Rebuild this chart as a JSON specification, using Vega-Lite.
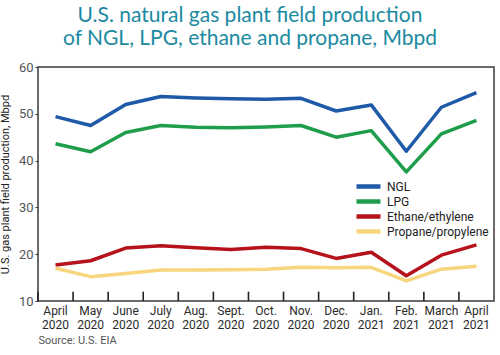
{
  "$schema": "https://vega.github.io/schema/vega-lite/v6.json",
  "width": 456,
  "height": 234,
  "autosize": {"type": "none"},
  "padding": {"left": 38, "top": 67, "right": 6, "bottom": 54},
  "background": "white",
  "title": {
    "text": ["U.S. natural gas plant field production", "of NGL, LPG, ethane and propane, Mbpd"],
    "font": "Lato",
    "fontSize": 21,
    "fontWeight": "normal",
    "color": "#1b8aa1",
    "anchor": "middle",
    "frame": "group",
    "dx": -16,
    "offset": 12,
    "lineHeight": 23
  },
  "config": {
    "view": {"stroke": "#3a3a3a", "strokeWidth": 1.5},
    "axis": {"labelFont": "Roboto", "titleFont": "Roboto"},
    "legend": {"labelFont": "Roboto"}
  },
  "data": {
    "values": [
      {"month": "April 2020", "series": "NGL", "value": 49.4},
      {"month": "May 2020", "series": "NGL", "value": 47.5},
      {"month": "June 2020", "series": "NGL", "value": 52.0},
      {"month": "July 2020", "series": "NGL", "value": 53.7},
      {"month": "Aug. 2020", "series": "NGL", "value": 53.4},
      {"month": "Sept. 2020", "series": "NGL", "value": 53.2},
      {"month": "Oct. 2020", "series": "NGL", "value": 53.1},
      {"month": "Nov. 2020", "series": "NGL", "value": 53.3},
      {"month": "Dec. 2020", "series": "NGL", "value": 50.6},
      {"month": "Jan. 2021", "series": "NGL", "value": 51.9},
      {"month": "Feb. 2021", "series": "NGL", "value": 42.0},
      {"month": "March 2021", "series": "NGL", "value": 51.4},
      {"month": "April 2021", "series": "NGL", "value": 54.5},
      {"month": "April 2020", "series": "LPG", "value": 43.6},
      {"month": "May 2020", "series": "LPG", "value": 41.9},
      {"month": "June 2020", "series": "LPG", "value": 46.0},
      {"month": "July 2020", "series": "LPG", "value": 47.5},
      {"month": "Aug. 2020", "series": "LPG", "value": 47.1},
      {"month": "Sept. 2020", "series": "LPG", "value": 47.0},
      {"month": "Oct. 2020", "series": "LPG", "value": 47.2},
      {"month": "Nov. 2020", "series": "LPG", "value": 47.5},
      {"month": "Dec. 2020", "series": "LPG", "value": 45.0},
      {"month": "Jan. 2021", "series": "LPG", "value": 46.4},
      {"month": "Feb. 2021", "series": "LPG", "value": 37.6},
      {"month": "March 2021", "series": "LPG", "value": 45.7},
      {"month": "April 2021", "series": "LPG", "value": 48.6},
      {"month": "April 2020", "series": "Ethane/ethylene", "value": 17.7},
      {"month": "May 2020", "series": "Ethane/ethylene", "value": 18.6},
      {"month": "June 2020", "series": "Ethane/ethylene", "value": 21.3},
      {"month": "July 2020", "series": "Ethane/ethylene", "value": 21.8},
      {"month": "Aug. 2020", "series": "Ethane/ethylene", "value": 21.4},
      {"month": "Sept. 2020", "series": "Ethane/ethylene", "value": 21.0},
      {"month": "Oct. 2020", "series": "Ethane/ethylene", "value": 21.5},
      {"month": "Nov. 2020", "series": "Ethane/ethylene", "value": 21.2},
      {"month": "Dec. 2020", "series": "Ethane/ethylene", "value": 19.1},
      {"month": "Jan. 2021", "series": "Ethane/ethylene", "value": 20.4},
      {"month": "Feb. 2021", "series": "Ethane/ethylene", "value": 15.4},
      {"month": "March 2021", "series": "Ethane/ethylene", "value": 19.8},
      {"month": "April 2021", "series": "Ethane/ethylene", "value": 22.0},
      {"month": "April 2020", "series": "Propane/propylene", "value": 17.0},
      {"month": "May 2020", "series": "Propane/propylene", "value": 15.2},
      {"month": "June 2020", "series": "Propane/propylene", "value": 15.9},
      {"month": "July 2020", "series": "Propane/propylene", "value": 16.6},
      {"month": "Aug. 2020", "series": "Propane/propylene", "value": 16.6},
      {"month": "Sept. 2020", "series": "Propane/propylene", "value": 16.7},
      {"month": "Oct. 2020", "series": "Propane/propylene", "value": 16.8},
      {"month": "Nov. 2020", "series": "Propane/propylene", "value": 17.2},
      {"month": "Dec. 2020", "series": "Propane/propylene", "value": 17.1},
      {"month": "Jan. 2021", "series": "Propane/propylene", "value": 17.2},
      {"month": "Feb. 2021", "series": "Propane/propylene", "value": 14.3},
      {"month": "March 2021", "series": "Propane/propylene", "value": 16.8},
      {"month": "April 2021", "series": "Propane/propylene", "value": 17.4}
    ]
  },
  "encoding": {
    "x": {
      "field": "month",
      "type": "ordinal",
      "scale": {
        "type": "band",
        "paddingInner": 0,
        "paddingOuter": 0,
        "domain": ["April 2020", "May 2020", "June 2020", "July 2020", "Aug. 2020", "Sept. 2020", "Oct. 2020", "Nov. 2020", "Dec. 2020", "Jan. 2021", "Feb. 2021", "March 2021", "April 2021"]
      },
      "axis": {
        "title": "Source: U.S. EIA",
        "titleAnchor": "start",
        "titleAlign": "left",
        "titleFontSize": 11,
        "titleFontWeight": "normal",
        "titleColor": "#555555",
        "titlePadding": 4,
        "labelAngle": 0,
        "labelExpr": "split(datum.label, ' ')",
        "labelFontSize": 12,
        "labelColor": "#2a2a2a",
        "labelLineHeight": 14,
        "labelPadding": 4,
        "ticks": false,
        "domain": false
      }
    }
  },
  "layer": [
    {
      "transform": [{"filter": "datum.series === 'NGL'"}],
      "mark": {"type": "rule", "color": "#222222", "strokeWidth": 1.6},
      "encoding": {
        "x": {"field": "month", "type": "ordinal", "bandPosition": 0},
        "y": {"datum": 10},
        "y2": {"datum": 12}
      }
    },
    {
      "mark": {"type": "line", "strokeWidth": 3.5, "strokeJoin": "round"},
      "encoding": {
        "x": {"field": "month", "type": "ordinal", "bandPosition": 0.5},
        "y": {
          "field": "value",
          "type": "quantitative",
          "scale": {"domain": [10, 60], "nice": false, "zero": false},
          "axis": {
            "title": "U.S. gas plant field production, Mbpd",
            "titleFontSize": 11,
            "titleFontWeight": "normal",
            "titleColor": "#222222",
            "titlePadding": 8,
            "values": [10, 20, 30, 40, 50, 60],
            "labelFontSize": 13,
            "labelColor": "#555555",
            "tickSize": 3,
            "tickColor": "#3a3a3a",
            "labelPadding": 2,
            "grid": false,
            "domain": false
          }
        },
        "color": {
          "field": "series",
          "type": "nominal",
          "scale": {
            "domain": ["NGL", "LPG", "Ethane/ethylene", "Propane/propylene"],
            "range": ["#1e5aa8", "#1e9e4a", "#b5121b", "#f8d67e"]
          },
          "legend": {
            "title": null,
            "orient": "none",
            "legendX": 316,
            "legendY": 112,
            "symbolType": "stroke",
            "symbolStrokeWidth": 4.5,
            "symbolSize": 576,
            "clipHeight": 15,
            "labelFontSize": 12,
            "labelColor": "#222222",
            "rowPadding": 0,
            "labelOffset": 4
          }
        }
      }
    }
  ]
}
